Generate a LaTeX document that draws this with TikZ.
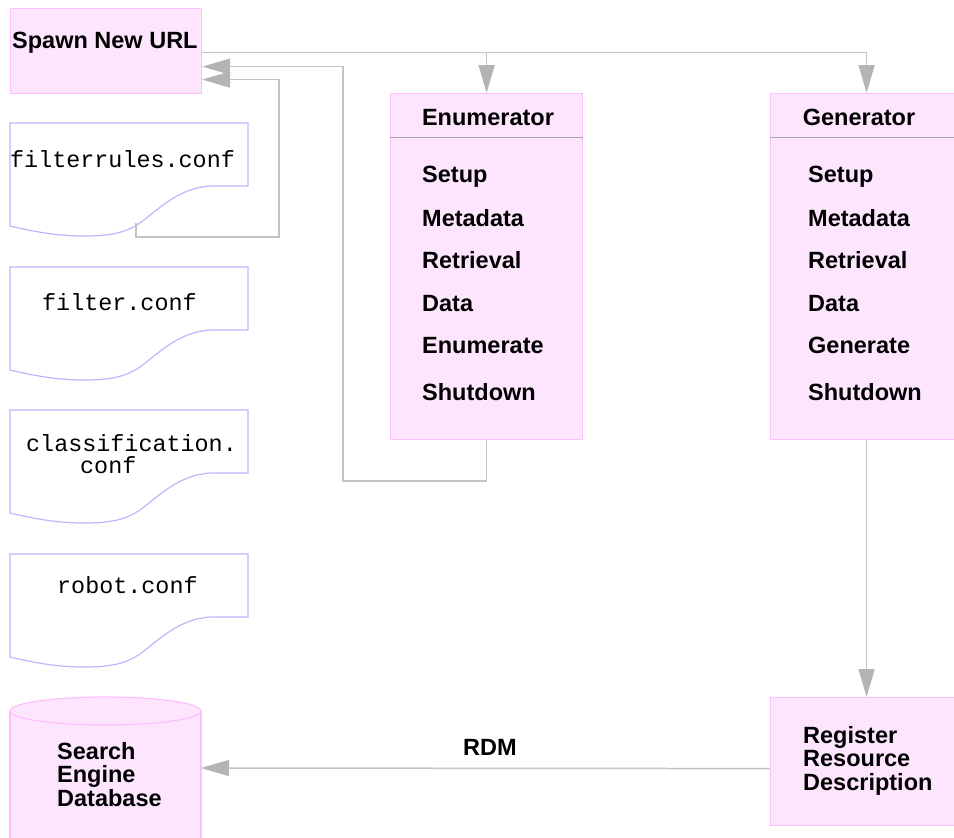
\documentclass[tikz,border=0pt]{standalone}
\usepackage{fontspec}
\setmainfont{Liberation Sans}
\newfontfamily\conffont{Liberation Mono}
\usetikzlibrary{arrows.meta}
\definecolor{boxfill}{HTML}{FDE6FD}
\definecolor{boxline}{HTML}{FFBFFF}
\definecolor{docline}{HTML}{B8B8FF}
\definecolor{wiregray}{HTML}{C4C4C4}
\definecolor{tipgray}{HTML}{B4B4B4}
\newcommand{\confsheet}[1]{%
  \draw[draw=docline, line width=1.2pt, shift={(10,#1)}] (0,0) -- (238,0) -- (238,63) -- (202,63)
    .. controls (170,64) and (150,85) .. (130,100)
    .. controls (115,110) and (100,113) .. (75,113)
    .. controls (50,113) and (30,110) .. (0,103) -- cycle;}

\begin{document}
\begin{tikzpicture}[x=1pt,y=-1pt,
    lab/.style={font=\fontsize{23.5}{23.5}\selectfont\bfseries, inner sep=0pt, anchor=base west, align=left},
    conf/.style={font=\fontsize{23.4}{21.5}\selectfont\conffont, inner sep=0pt, anchor=base west, align=left},
    pinkbox/.style={draw=boxline, fill=boxfill, line width=1.2pt, inner sep=0pt, anchor=north west},
    wire/.style={draw=wiregray, line width=1.5pt},
    tip/.style={wire, -{Triangle[length=28pt,width=16pt,color=tipgray]}}]
            \useasboundingbox (0,0) rectangle (954,838);
            \clip (0,0) rectangle (954,838);
            % boxes
            \node[pinkbox, minimum width=191pt, minimum height=85pt] (spawn) at (10,8) {};
            \node[pinkbox, minimum width=192pt, minimum height=346pt] (enum) at (390,93) {};
            \node[pinkbox, minimum width=192pt, minimum height=346pt] (gen) at (770,93) {};
            \node[pinkbox, minimum width=192pt, minimum height=128pt] (reg) at (770,697) {};
            \draw[draw=gray!70, line width=1pt] ([yshift=-44pt]enum.north west) -- ([yshift=-44pt]enum.north east);
            \draw[draw=gray!70, line width=1pt] ([yshift=-44pt]gen.north west) -- ([yshift=-44pt]gen.north east);
            % database
            \fill[boxfill] (10,711) rectangle (201,850);
            \draw[draw=boxline, line width=1.2pt] (10,711) -- (10,850);
            \draw[draw=boxline, line width=1.2pt] (201,711) -- (201,850);
            \filldraw[draw=boxline, fill=boxfill, line width=1.2pt] (105.5,711) ellipse [x radius=95.5pt, y radius=14pt];
            % conf files
            \confsheet{123}
            \confsheet{267}
            \confsheet{410}
            \confsheet{554}
            % texts
            \node[lab] (spawntxt) at (12,48) {Spawn New URL};
            \node[lab, anchor=base] (enumtitle) at (488,125) {Enumerator};
            \node[lab] (enumsetup) at (422,182) {Setup};
            \node[lab] (enummeta) at (422,226) {Metadata};
            \node[lab] (enumretr) at (422,268) {Retrieval};
            \node[lab] (enumdata) at (422,311) {Data};
            \node[lab] (enumenum) at (422,353) {Enumerate};
            \node[lab] (enumshut) at (422,400) {Shutdown};
            \node[lab, anchor=base] (gentitle) at (859,125) {Generator};
            \node[lab] (gensetup) at (808,182) {Setup};
            \node[lab] (genmeta) at (808,226) {Metadata};
            \node[lab] (genretr) at (808,268) {Retrieval};
            \node[lab] (gendata) at (808,311) {Data};
            \node[lab] (gengen) at (808,353) {Generate};
            \node[lab] (genshut) at (808,400) {Shutdown};
            \node[lab] (regtxt) at (803,790) {Register\\Resource\\Description};
            \node[lab] (dbtxt) at (57,806) {Search\\Engine\\Database};
            \node[lab] (rdm) at (463,755) {RDM};
            \node[conf] (rules) at (10,167) {filterrules.conf};
            \node[conf] (filter) at (42,310) {filter.conf};
            \node[conf] (classes) at (26,473) {classification.\\\hspace*{54pt}conf};
            \node[conf] (robot) at (57,593) {robot.conf};
            % connectors
            \coordinate (rulesout) at (136,223);
            \coordinate (rulesturn) at (279,237);
            \coordinate (enumturn) at (343,481);
            \coordinate (dbin) at (201,768);
            \draw[tip] ([yshift=-1.5pt]spawn.east) -| (enum.north);
            \draw[tip] ([yshift=-1.5pt]spawn.east) -| (gen.north);
            \draw[tip] (enum.south) |- (enumturn) |- ([yshift=-15.5pt]spawn.east);
            \draw[tip] (rulesout) |- (rulesturn) |- ([yshift=-28.5pt]spawn.east);
            \draw[tip] (gen.south) -- (reg.north);
            \draw[tip] ([yshift=-7pt]reg.west) -- (dbin);
        \end{tikzpicture}
\end{document}
